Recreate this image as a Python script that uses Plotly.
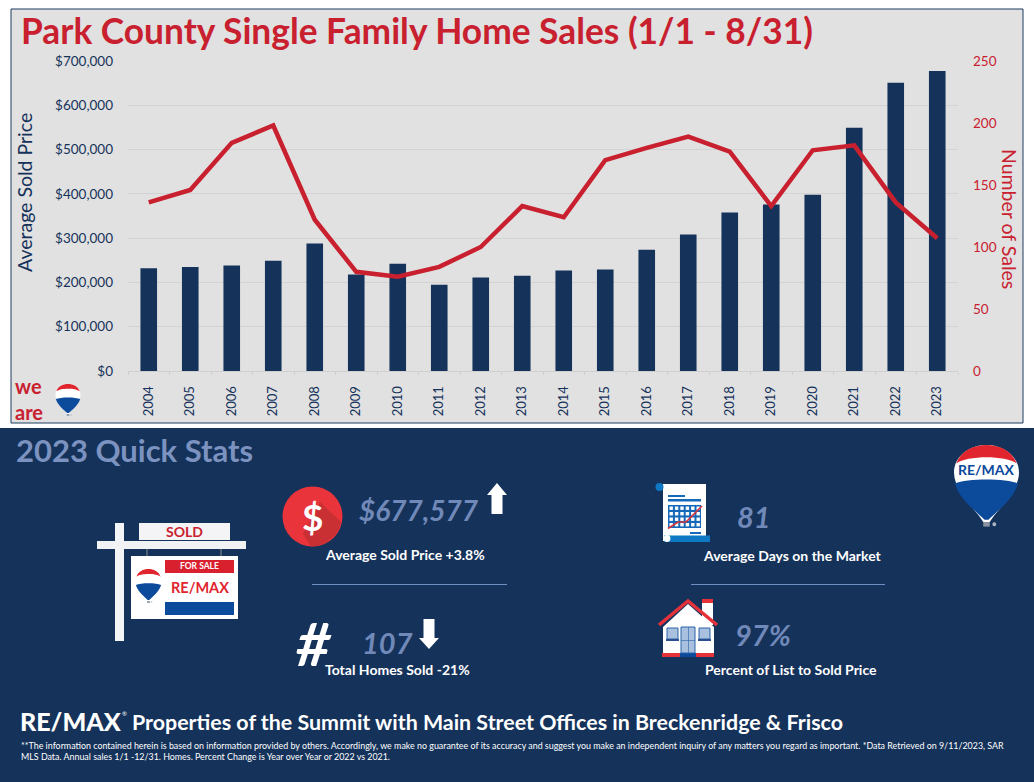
"""Park County home sales infographic: bar and line chart plus the quick stats panel."""

from __future__ import annotations

import re

import plotly.graph_objects as go

WIDTH = 1034
HEIGHT = 782

NAVY = "#15325a"
RED = "#c9202f"
STAT_BLUE = "#7189b9"
HEAD_BLUE = "#7c92c0"
REMAX_BLUE = "#0c4a9c"
REMAX_RED = "#e0252f"
RULE_BLUE = "#6d8fc6"
SANS = "Lato, 'Open Sans', sans-serif"

years = [str(y) for y in range(2004, 2024)]
avg_sold_price = [
    232000, 235000, 238000, 249000, 288000, 218000, 242000, 195000, 211000, 215000,
    227000, 229000, 274000, 308000, 358000, 376000, 398000, 549000, 651000, 677577,
]
num_sales = [
    136, 146, 184, 198, 122, 80, 76, 84, 100, 133,
    124, 170, 180, 189, 177, 133, 178, 182, 136, 107,
]

price_ticks = [0, 100000, 200000, 300000, 400000, 500000, 600000, 700000]
sales_ticks = [0, 50, 100, 150, 200, 250]

title_text = "Park County Single Family Home Sales (1/1 - 8/31)"
footnote_1 = (
    "**The information contained herein is based on information provided by others. "
    "Accordingly, we make no guarantee of its accuracy and suggest you make an independent "
    "inquiry of any matters you regard as important. *Data Retrieved on 9/11/2023, SAR"
)
footnote_2 = (
    "MLS Data. Annual sales 1/1 -12/31. Homes. Percent Change is Year over Year or 2022 vs 2021."
)

shapes = []
notes = []


def fx(x):
    return x / WIDTH


def fy(y):
    return 1 - y / HEIGHT


def rect(x0, y0, x1, y1, fill, line=None, layer="above"):
    shapes.append(dict(
        type="rect", xref="paper", yref="paper",
        x0=fx(x0), y0=fy(y0), x1=fx(x1), y1=fy(y1),
        fillcolor=fill, layer=layer,
        line=dict(color=line or fill, width=1 if line else 0),
    ))


def circle(cx, cy, r, fill):
    shapes.append(dict(
        type="circle", xref="paper", yref="paper",
        x0=fx(cx - r), y0=fy(cy - r), x1=fx(cx + r), y1=fy(cy + r),
        fillcolor=fill, line=dict(width=0),
    ))


def path(d, fill=None, line=None, width=0):
    """Draws an svg path given in picture pixels (absolute M, L, C, Q, Z only)."""
    out, is_x = [], True
    for tok in re.findall(r"[MLCQZ]|-?[\d.]+", d):
        if tok.isalpha():
            out.append(tok)
        else:
            out.append(f"{fx(float(tok)) if is_x else fy(float(tok)):.5f}")
            is_x = not is_x
    shapes.append(dict(
        type="path", xref="paper", yref="paper", path=" ".join(out),
        fillcolor=fill or "rgba(0,0,0,0)",
        line=dict(color=line or "rgba(0,0,0,0)", width=width),
    ))


def text(x, y, s, size, color="white", bold=True, italic=False, anchor="left", angle=0, font=SANS, weight=None):
    notes.append(dict(
        xref="paper", yref="paper", x=fx(x), y=fy(y), text=f"<b>{s}</b>" if bold else s,
        showarrow=False, xanchor=anchor, yanchor="middle", textangle=angle, align=anchor,
        borderpad=0, font=dict(family=font, size=size, color=color, weight=weight or "normal",
                               style="italic" if italic else "normal"),
    ))


def balloon(cx, top, w, h, label_size=0):
    """Draws the red, white and blue balloon scaled into a w x h box."""

    def d(s):
        out, is_x = [], True
        for tok in re.findall(r"[MLCQZ]|-?[\d.]+", s):
            if tok.isalpha():
                out.append(tok)
            else:
                out.append(str(cx + float(tok) * w / 2 if is_x else top + float(tok) * h))
                is_x = not is_x
        return " ".join(out)

    path(d("M -1 .36 C -1 .14 -.5 0 0 0 C .5 0 1 .14 1 .36 C 1 .6 .3 .85 .1 1 "
           "L -.1 1 C -.3 .85 -1 .6 -1 .36 Z"), fill="white")
    path(d("M -.93 .24 C -.8 .08 -.4 0 0 0 C .4 0 .8 .08 .93 .24 C .6 .13 -.6 .13 -.93 .24 Z"),
         fill=REMAX_RED)
    path(d("M -.97 .5 C -.6 .43 .6 .43 .97 .5 C .85 .7 .3 .87 .06 .97 L -.06 .97 "
           "C -.3 .87 -.85 .7 -.97 .5 Z"), fill=REMAX_BLUE)
    rect(cx - w * 0.05, top + h * 1.0, cx + w * 0.05, top + h * 1.06, "#8a93a3")
    circle(cx + w * 0.12, top + h * 1.03, w * 0.03, "#aeb6c2")
    if label_size:
        text(cx, top + h * 0.32, "RE/MAX", label_size, color=REMAX_BLUE, anchor="center")


def arrow(cx, y_tail, y_neck, y_tip, half_shaft, half_head):
    path(
        f"M {cx - half_shaft} {y_tail} L {cx - half_shaft} {y_neck} L {cx - half_head} {y_neck} "
        f"L {cx} {y_tip} L {cx + half_head} {y_neck} L {cx + half_shaft} {y_neck} "
        f"L {cx + half_shaft} {y_tail} Z",
        fill="white",
    )


def draw_panels():
    rect(11, 9, 1023, 423, "#e1e1e1", line="#1c3a60", layer="below")
    rect(0, 428, 1034, 782, NAVY, layer="below")


def draw_sold_sign():
    rect(115, 523, 124, 641, "#f4f5f7")
    rect(97, 541, 246, 549, "#f1f2f4")
    rect(139, 523, 230, 540, "#f4f4f6")
    text(184.5, 531.5, "SOLD", 14, color=RED, anchor="center")
    rect(146.5, 549, 147.5, 556, "#8c8c8c")
    rect(220.5, 549, 221.5, 556, "#8c8c8c")
    rect(131, 556, 238, 619, "white")
    rect(165, 560, 234, 573, "#d9202f")
    text(199.5, 566, "FOR SALE", 8.5, anchor="center")
    text(199.5, 587.5, "RE/MAX", 14.5, color=REMAX_RED, anchor="center")
    rect(165, 602, 234, 615, REMAX_BLUE)
    balloon(148.5, 569, 26, 32)


def draw_dollar_icon():
    circle(312.5, 516.5, 30, "#e9343c")
    path("M 320 502 L 341 522 C 338 536 326 546 311 546.5 L 303 534 Z", fill="#c93034")
    text(312, 516, "$", 37, anchor="center")


def draw_report_icon():
    rect(663, 484, 706, 541, "white")
    circle(659.5, 487, 4, "#0e78c4")
    rect(664, 535.5, 710, 542, "#0e78c4")
    circle(667, 538.5, 3.4, "white")
    rect(668, 495, 685, 497, "#1669b9")
    rect(668, 499, 701, 501.5, "#1669b9")
    rect(668, 505, 701, 528, "#1669b9")
    for row in range(4):
        for col in range(6):
            x0 = 669.5 + col * 5.4
            y0 = 506.5 + row * 5.5
            rect(x0, y0, x0 + 3.4, y0 + 3.4, "white")
    path("M 668 528.5 L 678 522 L 686 522 L 702 506", line="#d8333c", width=1.6)
    rect(690, 532, 701, 534, "#1669b9")


def draw_house_icon():
    rect(702, 599, 713, 625, "white")
    rect(702, 599, 713, 603, "#e5323a")
    path("M 663 627 L 688 604 L 714 627 L 714 655 L 663 655 Z", fill="white")
    path("M 659 625 L 688 601 L 717 625", line="#e5323a", width=3.5)
    rect(662, 653, 680, 657, "#e5323a")
    rect(696, 653, 714, 657, "#e5323a")
    rect(680, 653, 696, 657, REMAX_BLUE)
    rect(681, 627, 695, 653, "#a9c0df", line="#2a62a8")
    rect(667, 628, 678, 639, "#a9c0df", line="#2a62a8")
    rect(699, 628, 710, 639, "#a9c0df", line="#2a62a8")
    rect(666, 639, 679, 641, "#2a4f8c")
    rect(698, 639, 711, 641, "#2a4f8c")
    rect(688, 627, 688.6, 653, "#2a62a8")
    rect(681, 640, 695, 640.6, "#2a62a8")


def draw_stats():
    text(15, 449.5, "2023 Quick Stats", 31, color=HEAD_BLUE)

    text(358, 510, "$677,577", 28, color=STAT_BLUE, italic=True)
    arrow(497, 514, 495, 483, 5.5, 10)
    text(324, 554.5, "Average Sold Price +3.8%", 14)
    rect(312, 584, 507, 585, RULE_BLUE)

    text(295, 643, "#", 60, italic=True)
    text(361, 642.5, "107", 29, color=STAT_BLUE, italic=True)
    arrow(429, 619, 638, 649, 5.5, 10)
    text(324, 669.5, "Total Homes Sold -21%", 14)

    text(736, 516.5, "81", 29, color=STAT_BLUE, italic=True)
    text(702, 555.5, "Average Days on the Market", 14)
    rect(691, 584, 885, 585, RULE_BLUE)

    text(734, 634, "97%", 29, color=STAT_BLUE, italic=True)
    text(703.5, 669.5, "Percent of List to Sold Price", 14)


def draw_footer():
    text(19, 720.5, "RE/MAX", 25, bold=False, weight=900)
    text(121, 713, "®", 6, bold=False)
    text(131, 722, "Properties of the Summit with Main Street Offices in Breckenridge &amp; Frisco", 21.4)
    text(20, 745, footnote_1, 8.9, bold=False)
    text(20, 756, footnote_2, 8.9, bold=False)


def draw_we_are():
    text(14, 399, "we<br>are", 20, color=RED)
    balloon(68, 384, 25, 30)


draw_panels()
draw_sold_sign()
draw_dollar_icon()
draw_report_icon()
draw_house_icon()
draw_stats()
draw_footer()
draw_we_are()
balloon(986.5, 445, 65, 77, label_size=14)

text(20, 31, title_text, 35.3, color=RED)
text(25, 193, "Average Sold Price", 19.5, color=NAVY, bold=False, anchor="center", angle=-90)
text(1010, 219, "Number of Sales", 19.5, color=RED, bold=False, anchor="center", angle=90)

fig = go.Figure()
fig.add_trace(go.Bar(x=years, y=avg_sold_price, name="Average Sold Price", marker=dict(color=NAVY, line=dict(width=0))))
fig.add_trace(
    go.Scatter(
        x=years,
        y=num_sales,
        name="Number of Sales",
        mode="lines",
        yaxis="y2",
        line=dict(color=RED, width=4.5),
    )
)

fig.update_layout(
    width=WIDTH,
    height=HEIGHT,
    autosize=False,
    margin=dict(l=0, r=0, t=0, b=0, pad=0),
    paper_bgcolor="white",
    plot_bgcolor="rgba(0,0,0,0)",
    showlegend=False,
    bargap=0.6,
    font=dict(family=SANS),
    xaxis=dict(
        type="category",
        domain=[fx(128), fx(958)],
        automargin=False,
        tickangle=-90,
        tickson="boundaries",
        ticks="outside",
        ticklen=3,
        tickcolor="#cfcfcf",
        ticklabelstandoff=9,
        tickfont=dict(size=13, color=NAVY),
        showgrid=False,
        showline=True,
        linecolor="#cfcfcf",
    ),
    yaxis=dict(
        domain=[fy(371), fy(61)],
        automargin=False,
        range=[0, 700000],
        tickvals=price_ticks,
        tickformat="$,.0f",
        tickfont=dict(size=13.5, color=NAVY),
        ticklabelstandoff=14,
        gridcolor="#d3d3d3",
        zeroline=False,
    ),
    yaxis2=dict(
        overlaying="y",
        side="right",
        automargin=False,
        range=[0, 250],
        tickvals=sales_ticks,
        tickfont=dict(size=13.5, color=RED),
        ticklabelstandoff=14,
        showgrid=False,
        zeroline=False,
    ),
    shapes=shapes,
    annotations=notes,
)

fig.write_html("out.html", config=dict(displayModeBar=False), post_script="document.body.style.margin='0';")
